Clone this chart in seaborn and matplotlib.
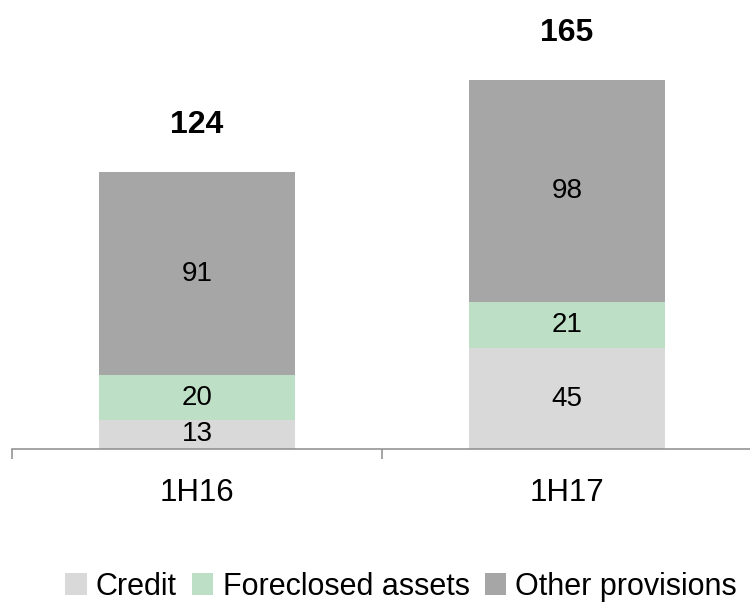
import matplotlib
matplotlib.use("Agg")
import matplotlib.pyplot as plt
import seaborn as sns
import pandas as pd
import numpy as np
from matplotlib.patches import Patch

# data
periods = ["1H16", "1H17"]
credit = [13, 45]
foreclosed = [20, 21]
other = [91, 98]
totals = [124, 165]  # reported totals (rounded in the source)
series_names = ["Credit", "Foreclosed assets", "Other provisions"]
colors = ["#d9d9d9", "#bddfc5", "#a6a6a6"]

sns.set_theme(style="white")
plt.rcParams["font.family"] = ["Liberation Sans", "DejaVu Sans"]
plt.rcParams["text.color"] = "black"

df = pd.DataFrame({"period": periods, "credit": credit,
                   "foreclosed": foreclosed, "other": other, "total": totals})
df["lvl1"] = df["credit"]
df["lvl2"] = df["credit"] + df["foreclosed"]

fig = plt.figure(figsize=(7.5, 6.08), dpi=100)
ax = fig.add_axes([0.016, 0.2615, 0.9867, 0.7385])

# stack by overdrawing cumulative heights
for col, c in zip(["total", "lvl2", "lvl1"], colors[::-1]):
    sns.barplot(data=df, x="period", y=col, color=c, width=0.53,
                saturation=1, ax=ax, linewidth=0)

ax.set_xlim(-0.5, 1.5)
ax.set_ylim(0, 201)

# segment labels
for i, row in df.iterrows():
    ax.text(i, row["credit"] / 2, str(row["credit"]), ha="center", va="center", fontsize=20)
    ax.text(i, row["lvl1"] + row["foreclosed"] / 2, str(row["foreclosed"]),
            ha="center", va="center", fontsize=20)
    ax.text(i, (row["lvl2"] + row["total"]) / 2, str(row["other"]),
            ha="center", va="center", fontsize=20)
    ax.annotate(str(row["total"]), (i, row["total"]), xytext=(0, 34),
                textcoords="offset points", ha="center", va="center",
                fontsize=23, fontweight="bold")

for s in ["top", "right", "left"]:
    ax.spines[s].set_visible(False)
ax.spines["bottom"].set_color("#8c8c8c")
ax.spines["bottom"].set_linewidth(1.1)
ax.set_yticks([])
ax.set_xlabel("")
ax.set_ylabel("")
ax.tick_params(axis="x", which="major", length=0, pad=21, labelsize=22.5, labelcolor="black")
ax.set_xticks([-0.5, 0.5, 1.5], minor=True)
ax.tick_params(axis="x", which="minor", length=7, width=1.1, color="#8c8c8c", direction="out", bottom=True)

handles = [Patch(facecolor=c, edgecolor="none", label=n) for c, n in zip(colors, series_names)]
fig.legend(handles=handles, loc="center", bbox_to_anchor=(0.535, 0.035), ncol=3,
           frameon=False, fontsize=22, handlelength=0.7, handleheight=0.7,
           handletextpad=0.3, columnspacing=0.5)

fig.savefig("out.png", dpi=100)
